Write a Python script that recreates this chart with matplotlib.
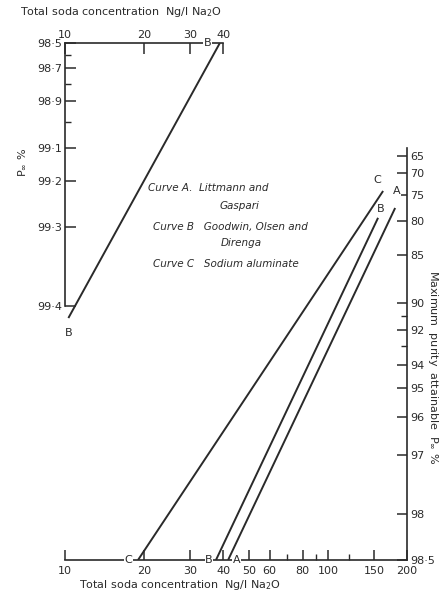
import numpy as np
import matplotlib.pyplot as plt
from matplotlib.ticker import FixedLocator, NullFormatter

# Nomogram: log(99.5 - P) against log(total soda concentration)
W, H = 440, 594
PX_PER_DECADE = 263

# Inset (top left): curve B at high purity
top_ticks = [98.5, 98.7, 98.9, 99.1, 99.2, 99.3, 99.4]
top_minor = [98.6, 98.8, 99.0]
top_xticks = [10, 20, 30, 40]
top_conc_B = [10.3, 38.8]
top_p_B = [99.41, 98.5]

# Main chart
right_ticks = [65, 70, 75, 80, 85, 90, 92, 94, 95, 96, 97, 98, 98.5]
right_minor = [91, 93]
x_ticks = [10, 20, 30, 40, 50, 60, 80, 100, 150, 200]
x_minor = [70, 90, 120]
conc_A = [41.7, 180]
p_A = [98.5, 77.7]
conc_B = [37.5, 155]
p_B = [98.5, 79.5]
conc_C = [18.95, 162]
p_C = [98.5, 74.2]

legend_lines = [
    ("Curve A.  Littmann and", 148, 188),
    ("Gaspari", 220, 206),
    ("Curve B   Goodwin, Olsen and", 153, 227),
    ("Direnga", 221, 243),
    ("Curve C   Sodium aluminate", 153, 264),
]

XLABEL = 'Total soda concentration  Ng/l Na$_2$O'


def fwd(p):
    with np.errstate(invalid='ignore', divide='ignore'):
        return -np.log10(99.5 - np.asarray(p, dtype=float))


def inv(v):
    return 99.5 - 10 ** (-np.asarray(v, dtype=float))


def fmt(v):
    return str(v).replace('.', '\u00b7')


def px_axes(left, top, width, height):
    return [left / W, 1 - (top + height) / H, width / W, height / H]


INK = '#2a2a2a'
plt.rcParams['font.family'] = 'DejaVu Sans'
plt.rcParams['axes.edgecolor'] = INK
plt.rcParams['text.color'] = INK
plt.rcParams['xtick.color'] = INK
plt.rcParams['ytick.color'] = INK

fig = plt.figure(figsize=(W / 100, H / 100), dpi=100)
fig.patch.set_facecolor('white')

# ---------- top-left inset ----------
ylim_top = (99.42, 98.5)
h_top = PX_PER_DECADE * (fwd(ylim_top[0]) - fwd(ylim_top[1]))
w_top = PX_PER_DECADE * np.log10(40 / 10)
ax1 = fig.add_axes(px_axes(65, 43, w_top, h_top))
ax1.set_xscale('log')
ax1.set_yscale('function', functions=(fwd, inv))
ax1.set_xlim(10, 40)
ax1.set_ylim(*ylim_top)
ax1.patch.set_alpha(0)
for s in ['right', 'bottom']:
    ax1.spines[s].set_visible(False)
ax1.spines['left'].set_bounds(98.5, 99.4)
for s in ['left', 'top']:
    ax1.spines[s].set_linewidth(1.2)
ax1.xaxis.tick_top()
ax1.xaxis.set_major_locator(FixedLocator(top_xticks))
ax1.xaxis.set_minor_locator(FixedLocator([]))
ax1.xaxis.set_minor_formatter(NullFormatter())
ax1.set_xticklabels([str(v) for v in top_xticks])
ax1.set_yticks(top_ticks)
ax1.set_yticklabels([fmt(v) for v in top_ticks])
ax1.yaxis.set_minor_locator(FixedLocator(top_minor))
ax1.yaxis.set_minor_formatter(NullFormatter())
ax1.tick_params(which='major', direction='in', length=8, width=1.1,
                labelsize=8, pad=2)
ax1.tick_params(which='minor', direction='in', length=4, width=1.0)
ax1.plot(top_conc_B, top_p_B, color=INK, lw=1.4, solid_capstyle='butt')
ax1.annotate('B', (top_conc_B[1], top_p_B[1]), xytext=(-9, 0),
             textcoords='offset points', ha='center', va='center', fontsize=8,
             bbox=dict(fc='white', ec='none', pad=0.3))
ax1.annotate('B', (top_conc_B[0], top_p_B[0]), xytext=(0, -11),
             textcoords='offset points', ha='center', va='center', fontsize=8)
fig.text(121 / W, 1 - 12 / H, XLABEL, fontsize=8, ha='center', va='center')
fig.text(22 / W, 1 - 162 / H, 'P$_\\infty$ %', fontsize=8, rotation=90,
         ha='center', va='center')

# ---------- main chart ----------
ylim_main = (98.5, 62.6)
h_main = PX_PER_DECADE * (fwd(ylim_main[0]) - fwd(ylim_main[1]))
w_main = PX_PER_DECADE * np.log10(200 / 10)
ax2 = fig.add_axes(px_axes(65, 560 - h_main, w_main, h_main))
ax2.set_xscale('log')
ax2.set_yscale('function', functions=(fwd, inv))
ax2.set_xlim(10, 200)
ax2.set_ylim(*ylim_main)
ax2.patch.set_alpha(0)
for s in ['left', 'top']:
    ax2.spines[s].set_visible(False)
for s in ['right', 'bottom']:
    ax2.spines[s].set_linewidth(1.2)
ax2.yaxis.tick_right()
ax2.set_yticks(right_ticks)
ax2.set_yticklabels([fmt(v) for v in right_ticks])
ax2.yaxis.set_minor_locator(FixedLocator(right_minor))
ax2.yaxis.set_minor_formatter(NullFormatter())
ax2.xaxis.set_major_locator(FixedLocator(x_ticks))
ax2.set_xticklabels([str(v) for v in x_ticks])
ax2.xaxis.set_minor_locator(FixedLocator(x_minor))
ax2.xaxis.set_minor_formatter(NullFormatter())
ax2.tick_params(which='major', direction='in', length=7, width=1.1,
                labelsize=8, pad=2)
ax2.tick_params(axis='x', which='major', pad=4)
ax2.tick_params(which='minor', direction='in', length=4, width=1.0)
fig.text(180 / W, 1 - 585 / H, XLABEL, fontsize=8, ha='center', va='center')
fig.text(433 / W, 1 - 367 / H, 'Maximum  purity  attainable  P$_\\infty$ %',
         fontsize=8, rotation=270, ha='center', va='center')

for conc, p, name, off_lo, off_hi in [
        (conc_A, p_A, 'A', (6, 0), (1, 12)),
        (conc_B, p_B, 'B', (-5, 0), (2, 6)),
        (conc_C, p_C, 'C', (-7, 0), (-4, 8))]:
    ax2.plot(conc, p, color=INK, lw=1.4, solid_capstyle='butt')
    ax2.annotate(name, (conc[0], p[0]), xytext=off_lo, textcoords='offset points',
                 ha='center', va='center', fontsize=8,
                 bbox=dict(fc='white', ec='none', pad=0.3))
    ax2.annotate(name, (conc[1], p[1]), xytext=off_hi, textcoords='offset points',
                 ha='center', va='center', fontsize=8,
                 bbox=dict(fc='white', ec='none', pad=0.2))

for txt, x, y in legend_lines:
    fig.text(x / W, 1 - y / H, txt, fontsize=7.5, style='italic',
             ha='left', va='center')

fig.savefig('out.png', dpi=100, facecolor='white')
